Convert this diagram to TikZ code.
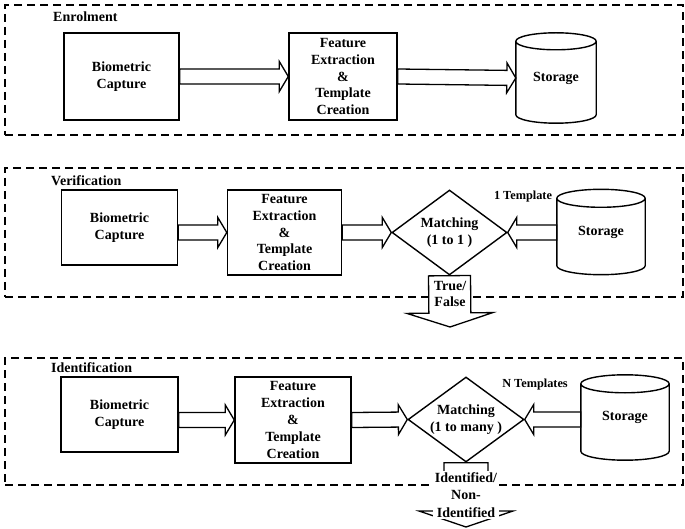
\documentclass[tikz,border=0pt]{standalone}
\usepackage{fontspec}
\setmainfont{Liberation Serif}
\usetikzlibrary{calc,shapes.geometric}
\newcommand\lblfont{\fontsize{14}{16.8}\selectfont\bfseries}
\newcommand\drawcyl[2]{%
  \draw[cylline] let \p1=(#1.north west), \p2=(#1.south east), \n1={(\x2-\x1)/2} in
    (\x1,\y1-#2) -- (\x1,\y2+#2)
    arc[start angle=180,end angle=360,x radius=\n1,y radius=#2]
    -- (\x2,\y1-#2)
    arc[start angle=0,end angle=180,x radius=\n1,y radius=#2]
    arc[start angle=180,end angle=360,x radius=\n1,y radius=#2];
}
\tikzset{
  panel/.style={draw, dash pattern=on 8pt off 5pt, line width=1.6pt, minimum width=678pt, inner sep=0pt},
  title/.style={font=\fontsize{14}{16}\selectfont\bfseries, anchor=west, inner sep=0pt},
  box/.style={draw, line width=1.4pt, fill=white, align=center, font=\lblfont, inner sep=0pt},
  lbl/.style={align=center, font=\lblfont, inner sep=0pt},
  small/.style={font=\fontsize{12.3}{14}\selectfont\bfseries, inner sep=0pt},
  match/.style={diamond, draw, line width=1.4pt, fill=white, inner sep=0pt, minimum width=115pt, minimum height=85pt},
  cylline/.style={line width=1.4pt},
  barrow/.style n args={3}{fill=white, line width=1.3pt, line join=miter, to path={
    ($(\tikztostart)!#1!90:(\tikztotarget)$)
    -- ($(\tikztotarget)!#3!(\tikztostart)!#1!-90:(\tikztostart)$)
    -- ($(\tikztotarget)!#3!(\tikztostart)!#2!-90:(\tikztostart)$)
    -- (\tikztotarget)
    -- ($(\tikztotarget)!#3!(\tikztostart)!#2!90:(\tikztostart)$)
    -- ($(\tikztotarget)!#3!(\tikztostart)!#1!90:(\tikztostart)$)
    -- ($(\tikztostart)!#1!-90:(\tikztotarget)$) -- cycle}},
  arr/.style={barrow={7.5pt}{15pt}{9pt}}
}
\begin{document}
\begin{tikzpicture}[x=1pt,y=-1pt]
\useasboundingbox (0,0) rectangle (685,529);
% panels
\node[panel, minimum height=130pt] (p1) at (344,70) {};
\node[panel, minimum height=129pt] (p2) at (344,232.5) {};
\node[panel, minimum height=127pt] (p3) at (344,421.5) {};
\node[title] (t1) at (53,17) {Enrolment};
\node[title] (t2) at (51,181) {Verification};
\node[title] (t3) at (51,368) {Identification};
% enrolment
\node[box, minimum width=115pt, minimum height=87pt] (bc1) at (121.5,76.5) {Biometric\\Capture};
\node[box, minimum width=108pt, minimum height=87pt] (fe1) at (343,76.5) {Feature\\Extraction\\\&\\Template\\Creation};
\node[lbl, minimum width=80pt, minimum height=90pt] (st1) at (556,78) {Storage};
\drawcyl{st1}{8.5pt}
\draw[arr] (bc1.east) to (fe1.west);
\draw[arr] (fe1.east) to (st1.west);
% verification
\node[box, minimum width=116pt, minimum height=75pt] (bc2) at (119.5,227.5) {Biometric\\Capture};
\node[box, minimum width=114pt, minimum height=85pt] (fe2) at (284.5,232.5) {Feature\\Extraction\\\&\\Template\\Creation};
\node[match] (m2) at (449.5,232.5) {};
\node[lbl] (m2t) at (m2.center) {Matching\\(1 to 1 )};
\node[lbl, minimum width=88pt, minimum height=85pt] (st2) at (601,232) {Storage};
\drawcyl{st2}{9pt}
\node[small] (n2) at (523,197) {1 Template};
\coordinate (a2) at (bc2.east |- fe2.west);
\draw[arr] (a2) to (fe2.west);
\draw[arr] (fe2.east) to (m2.west);
\coordinate (s2) at (st2.west |- m2.east);
\draw[arr] (s2) to (m2.east);
\coordinate (tf) at (450,327);
\draw[barrow={21pt}{43pt}{14pt}] (m2.south) to (tf);
\node[lbl] (tft) at (450,294) {True/\\False};
% identification
\node[box, minimum width=117pt, minimum height=75pt] (bc3) at (119.5,414.5) {Biometric\\Capture};
\node[box, minimum width=116pt, minimum height=86pt] (fe3) at (293,420) {Feature\\Extraction\\\&\\Template\\Creation};
\node[match, minimum width=116pt] (m3) at (466,419.5) {};
\node[lbl] (m3t) at (m3.center) {Matching\\(1 to many )};
\node[lbl, minimum width=88pt, minimum height=85pt] (st3) at (625,417.5) {Storage};
\drawcyl{st3}{9pt}
\node[small] (n3) at (535,385) {N Templates};
\coordinate (a3) at (bc3.east |- fe3.west);
\draw[arr] (a3) to (fe3.west);
\draw[arr] (fe3.east) to (m3.west);
\coordinate (s3) at (st3.west |- m3.east);
\draw[arr] (s3) to (m3.east);
\coordinate (idt) at (466,527);
\draw[barrow={22pt}{47pt}{16pt}] (m3.south) to (idt);
\node[lbl, fill=white, inner sep=1.5pt, font=\fontsize{14}{17.5}\selectfont\bfseries] (idtx) at (466,495) {Identified/\\Non-\\Identified};
\end{tikzpicture}
\end{document}
